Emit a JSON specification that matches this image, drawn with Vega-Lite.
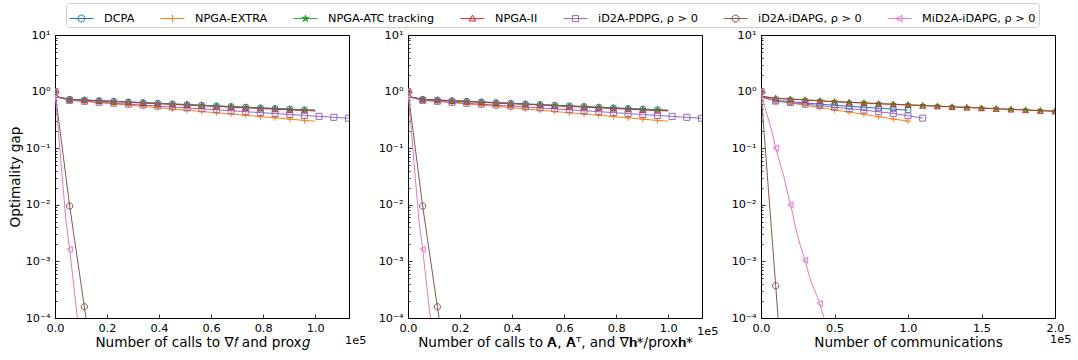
{
  "$schema": "https://vega.github.io/schema/vega-lite/v6.json",
  "autosize": {"type": "pad"},
  "padding": {"left": 7, "top": 2, "right": 0, "bottom": 0},
  "background": "white",
  "config": {
    "font": "DejaVu Sans",
    "view": {"stroke": "black", "strokeWidth": 1},
    "axis": {
      "grid": false,
      "labelFont": "DejaVu Sans", "labelFontSize": 11.3, "labelColor": "black",
      "titleFont": "DejaVu Sans", "titleFontSize": 13.6, "titleFontWeight": "normal", "titleColor": "black",
      "domainColor": "black", "domainWidth": 1, "tickColor": "black", "tickWidth": 0.8,
      "labelFlush": false, "labelOverlap": false
    }
  },
  "data": {"values": [
    {"p":1,"s":"DCPA","x":0,"y":1.0,"m":1},{"p":1,"s":"DCPA","x":1200,"y":0.80,"m":0},{"p":1,"s":"DCPA","x":5640,"y":0.731,"m":1},{"p":1,"s":"DCPA","x":11280,"y":0.712,"m":1},{"p":1,"s":"DCPA","x":16920,"y":0.693,"m":1},{"p":1,"s":"DCPA","x":22560,"y":0.675,"m":1},{"p":1,"s":"DCPA","x":28200,"y":0.658,"m":1},{"p":1,"s":"DCPA","x":33840,"y":0.640,"m":1},{"p":1,"s":"DCPA","x":39480,"y":0.624,"m":1},{"p":1,"s":"DCPA","x":45120,"y":0.607,"m":1},{"p":1,"s":"DCPA","x":50760,"y":0.591,"m":1},{"p":1,"s":"DCPA","x":56400,"y":0.576,"m":1},{"p":1,"s":"DCPA","x":62040,"y":0.561,"m":1},{"p":1,"s":"DCPA","x":67680,"y":0.546,"m":1},{"p":1,"s":"DCPA","x":73320,"y":0.532,"m":1},{"p":1,"s":"DCPA","x":78960,"y":0.518,"m":1},{"p":1,"s":"DCPA","x":84600,"y":0.505,"m":1},{"p":1,"s":"DCPA","x":90240,"y":0.491,"m":1},{"p":1,"s":"DCPA","x":95880,"y":0.479,"m":1},{"p":1,"s":"DCPA","x":100000,"y":0.472,"m":0},
    {"p":1,"s":"EXTRA","x":0,"y":1.0,"m":1},{"p":1,"s":"EXTRA","x":1200,"y":0.79,"m":0},{"p":1,"s":"EXTRA","x":5640,"y":0.71,"m":1},{"p":1,"s":"EXTRA","x":11280,"y":0.674,"m":1},{"p":1,"s":"EXTRA","x":16920,"y":0.640,"m":1},{"p":1,"s":"EXTRA","x":22560,"y":0.608,"m":1},{"p":1,"s":"EXTRA","x":28200,"y":0.577,"m":1},{"p":1,"s":"EXTRA","x":33840,"y":0.548,"m":1},{"p":1,"s":"EXTRA","x":39480,"y":0.520,"m":1},{"p":1,"s":"EXTRA","x":45120,"y":0.494,"m":1},{"p":1,"s":"EXTRA","x":50760,"y":0.469,"m":1},{"p":1,"s":"EXTRA","x":56400,"y":0.445,"m":1},{"p":1,"s":"EXTRA","x":62040,"y":0.423,"m":1},{"p":1,"s":"EXTRA","x":67680,"y":0.401,"m":1},{"p":1,"s":"EXTRA","x":73320,"y":0.381,"m":1},{"p":1,"s":"EXTRA","x":78960,"y":0.362,"m":1},{"p":1,"s":"EXTRA","x":84600,"y":0.344,"m":1},{"p":1,"s":"EXTRA","x":90240,"y":0.326,"m":1},{"p":1,"s":"EXTRA","x":95880,"y":0.310,"m":1},{"p":1,"s":"EXTRA","x":100000,"y":0.300,"m":0},
    {"p":1,"s":"ATC","x":0,"y":1.0,"m":1},{"p":1,"s":"ATC","x":1200,"y":0.80,"m":0},{"p":1,"s":"ATC","x":5640,"y":0.728,"m":1},{"p":1,"s":"ATC","x":11280,"y":0.708,"m":1},{"p":1,"s":"ATC","x":16920,"y":0.689,"m":1},{"p":1,"s":"ATC","x":22560,"y":0.670,"m":1},{"p":1,"s":"ATC","x":28200,"y":0.652,"m":1},{"p":1,"s":"ATC","x":33840,"y":0.634,"m":1},{"p":1,"s":"ATC","x":39480,"y":0.617,"m":1},{"p":1,"s":"ATC","x":45120,"y":0.600,"m":1},{"p":1,"s":"ATC","x":50760,"y":0.584,"m":1},{"p":1,"s":"ATC","x":56400,"y":0.568,"m":1},{"p":1,"s":"ATC","x":62040,"y":0.553,"m":1},{"p":1,"s":"ATC","x":67680,"y":0.538,"m":1},{"p":1,"s":"ATC","x":73320,"y":0.524,"m":1},{"p":1,"s":"ATC","x":78960,"y":0.510,"m":1},{"p":1,"s":"ATC","x":84600,"y":0.496,"m":1},{"p":1,"s":"ATC","x":90240,"y":0.483,"m":1},{"p":1,"s":"ATC","x":95880,"y":0.470,"m":1},{"p":1,"s":"ATC","x":100000,"y":0.462,"m":0},
    {"p":1,"s":"II","x":0,"y":1.0,"m":1},{"p":1,"s":"II","x":1200,"y":0.80,"m":0},{"p":1,"s":"II","x":5640,"y":0.726,"m":1},{"p":1,"s":"II","x":11280,"y":0.705,"m":1},{"p":1,"s":"II","x":16920,"y":0.685,"m":1},{"p":1,"s":"II","x":22560,"y":0.666,"m":1},{"p":1,"s":"II","x":28200,"y":0.648,"m":1},{"p":1,"s":"II","x":33840,"y":0.630,"m":1},{"p":1,"s":"II","x":39480,"y":0.612,"m":1},{"p":1,"s":"II","x":45120,"y":0.595,"m":1},{"p":1,"s":"II","x":50760,"y":0.579,"m":1},{"p":1,"s":"II","x":56400,"y":0.563,"m":1},{"p":1,"s":"II","x":62040,"y":0.547,"m":1},{"p":1,"s":"II","x":67680,"y":0.532,"m":1},{"p":1,"s":"II","x":73320,"y":0.518,"m":1},{"p":1,"s":"II","x":78960,"y":0.503,"m":1},{"p":1,"s":"II","x":84600,"y":0.489,"m":1},{"p":1,"s":"II","x":90240,"y":0.476,"m":1},{"p":1,"s":"II","x":95880,"y":0.463,"m":1},{"p":1,"s":"II","x":100000,"y":0.455,"m":0},
    {"p":1,"s":"PDPG","x":0,"y":1.0,"m":1},{"p":1,"s":"PDPG","x":1200,"y":0.79,"m":0},{"p":1,"s":"PDPG","x":5640,"y":0.70,"m":1},{"p":1,"s":"PDPG","x":11280,"y":0.674,"m":1},{"p":1,"s":"PDPG","x":16920,"y":0.648,"m":1},{"p":1,"s":"PDPG","x":22560,"y":0.624,"m":1},{"p":1,"s":"PDPG","x":28200,"y":0.600,"m":1},{"p":1,"s":"PDPG","x":33840,"y":0.578,"m":1},{"p":1,"s":"PDPG","x":39480,"y":0.556,"m":1},{"p":1,"s":"PDPG","x":45120,"y":0.535,"m":1},{"p":1,"s":"PDPG","x":50760,"y":0.515,"m":1},{"p":1,"s":"PDPG","x":56400,"y":0.496,"m":1},{"p":1,"s":"PDPG","x":62040,"y":0.477,"m":1},{"p":1,"s":"PDPG","x":67680,"y":0.459,"m":1},{"p":1,"s":"PDPG","x":73320,"y":0.442,"m":1},{"p":1,"s":"PDPG","x":78960,"y":0.425,"m":1},{"p":1,"s":"PDPG","x":84600,"y":0.409,"m":1},{"p":1,"s":"PDPG","x":90240,"y":0.394,"m":1},{"p":1,"s":"PDPG","x":95880,"y":0.379,"m":1},{"p":1,"s":"PDPG","x":101520,"y":0.365,"m":1},{"p":1,"s":"PDPG","x":107160,"y":0.351,"m":1},{"p":1,"s":"PDPG","x":112800,"y":0.338,"m":1},
    {"p":1,"s":"iDAPG","x":0,"y":1.0,"m":1},{"p":1,"s":"iDAPG","x":5640,"y":0.0095,"m":1},{"p":1,"s":"iDAPG","x":11280,"y":0.000158,"m":1},{"p":1,"s":"iDAPG","x":14000,"y":0.000022,"m":0},
    {"p":1,"s":"MiD2A","x":0,"y":1.0,"m":1},{"p":1,"s":"MiD2A","x":4230,"y":0.0051,"m":0},{"p":1,"s":"MiD2A","x":5640,"y":0.00163,"m":1},{"p":1,"s":"MiD2A","x":8600,"y":0.0001,"m":0},{"p":1,"s":"MiD2A","x":10000,"y":0.000026,"m":0},

    {"p":2,"s":"DCPA","x":0,"y":1.0,"m":1},{"p":2,"s":"DCPA","x":1200,"y":0.80,"m":0},{"p":2,"s":"DCPA","x":5640,"y":0.731,"m":1},{"p":2,"s":"DCPA","x":11280,"y":0.712,"m":1},{"p":2,"s":"DCPA","x":16920,"y":0.693,"m":1},{"p":2,"s":"DCPA","x":22560,"y":0.675,"m":1},{"p":2,"s":"DCPA","x":28200,"y":0.658,"m":1},{"p":2,"s":"DCPA","x":33840,"y":0.640,"m":1},{"p":2,"s":"DCPA","x":39480,"y":0.624,"m":1},{"p":2,"s":"DCPA","x":45120,"y":0.607,"m":1},{"p":2,"s":"DCPA","x":50760,"y":0.591,"m":1},{"p":2,"s":"DCPA","x":56400,"y":0.576,"m":1},{"p":2,"s":"DCPA","x":62040,"y":0.561,"m":1},{"p":2,"s":"DCPA","x":67680,"y":0.546,"m":1},{"p":2,"s":"DCPA","x":73320,"y":0.532,"m":1},{"p":2,"s":"DCPA","x":78960,"y":0.518,"m":1},{"p":2,"s":"DCPA","x":84600,"y":0.505,"m":1},{"p":2,"s":"DCPA","x":90240,"y":0.491,"m":1},{"p":2,"s":"DCPA","x":95880,"y":0.479,"m":1},{"p":2,"s":"DCPA","x":100000,"y":0.472,"m":0},
    {"p":2,"s":"EXTRA","x":0,"y":1.0,"m":1},{"p":2,"s":"EXTRA","x":1200,"y":0.79,"m":0},{"p":2,"s":"EXTRA","x":5640,"y":0.71,"m":1},{"p":2,"s":"EXTRA","x":11280,"y":0.674,"m":1},{"p":2,"s":"EXTRA","x":16920,"y":0.640,"m":1},{"p":2,"s":"EXTRA","x":22560,"y":0.608,"m":1},{"p":2,"s":"EXTRA","x":28200,"y":0.577,"m":1},{"p":2,"s":"EXTRA","x":33840,"y":0.548,"m":1},{"p":2,"s":"EXTRA","x":39480,"y":0.520,"m":1},{"p":2,"s":"EXTRA","x":45120,"y":0.494,"m":1},{"p":2,"s":"EXTRA","x":50760,"y":0.469,"m":1},{"p":2,"s":"EXTRA","x":56400,"y":0.445,"m":1},{"p":2,"s":"EXTRA","x":62040,"y":0.423,"m":1},{"p":2,"s":"EXTRA","x":67680,"y":0.401,"m":1},{"p":2,"s":"EXTRA","x":73320,"y":0.381,"m":1},{"p":2,"s":"EXTRA","x":78960,"y":0.362,"m":1},{"p":2,"s":"EXTRA","x":84600,"y":0.344,"m":1},{"p":2,"s":"EXTRA","x":90240,"y":0.326,"m":1},{"p":2,"s":"EXTRA","x":95880,"y":0.310,"m":1},{"p":2,"s":"EXTRA","x":100000,"y":0.300,"m":0},
    {"p":2,"s":"ATC","x":0,"y":1.0,"m":1},{"p":2,"s":"ATC","x":1200,"y":0.80,"m":0},{"p":2,"s":"ATC","x":5640,"y":0.728,"m":1},{"p":2,"s":"ATC","x":11280,"y":0.708,"m":1},{"p":2,"s":"ATC","x":16920,"y":0.689,"m":1},{"p":2,"s":"ATC","x":22560,"y":0.670,"m":1},{"p":2,"s":"ATC","x":28200,"y":0.652,"m":1},{"p":2,"s":"ATC","x":33840,"y":0.634,"m":1},{"p":2,"s":"ATC","x":39480,"y":0.617,"m":1},{"p":2,"s":"ATC","x":45120,"y":0.600,"m":1},{"p":2,"s":"ATC","x":50760,"y":0.584,"m":1},{"p":2,"s":"ATC","x":56400,"y":0.568,"m":1},{"p":2,"s":"ATC","x":62040,"y":0.553,"m":1},{"p":2,"s":"ATC","x":67680,"y":0.538,"m":1},{"p":2,"s":"ATC","x":73320,"y":0.524,"m":1},{"p":2,"s":"ATC","x":78960,"y":0.510,"m":1},{"p":2,"s":"ATC","x":84600,"y":0.496,"m":1},{"p":2,"s":"ATC","x":90240,"y":0.483,"m":1},{"p":2,"s":"ATC","x":95880,"y":0.470,"m":1},{"p":2,"s":"ATC","x":100000,"y":0.462,"m":0},
    {"p":2,"s":"II","x":0,"y":1.0,"m":1},{"p":2,"s":"II","x":1200,"y":0.80,"m":0},{"p":2,"s":"II","x":5640,"y":0.726,"m":1},{"p":2,"s":"II","x":11280,"y":0.705,"m":1},{"p":2,"s":"II","x":16920,"y":0.685,"m":1},{"p":2,"s":"II","x":22560,"y":0.666,"m":1},{"p":2,"s":"II","x":28200,"y":0.648,"m":1},{"p":2,"s":"II","x":33840,"y":0.630,"m":1},{"p":2,"s":"II","x":39480,"y":0.612,"m":1},{"p":2,"s":"II","x":45120,"y":0.595,"m":1},{"p":2,"s":"II","x":50760,"y":0.579,"m":1},{"p":2,"s":"II","x":56400,"y":0.563,"m":1},{"p":2,"s":"II","x":62040,"y":0.547,"m":1},{"p":2,"s":"II","x":67680,"y":0.532,"m":1},{"p":2,"s":"II","x":73320,"y":0.518,"m":1},{"p":2,"s":"II","x":78960,"y":0.503,"m":1},{"p":2,"s":"II","x":84600,"y":0.489,"m":1},{"p":2,"s":"II","x":90240,"y":0.476,"m":1},{"p":2,"s":"II","x":95880,"y":0.463,"m":1},{"p":2,"s":"II","x":100000,"y":0.455,"m":0},
    {"p":2,"s":"PDPG","x":0,"y":1.0,"m":1},{"p":2,"s":"PDPG","x":1200,"y":0.79,"m":0},{"p":2,"s":"PDPG","x":5640,"y":0.70,"m":1},{"p":2,"s":"PDPG","x":11280,"y":0.674,"m":1},{"p":2,"s":"PDPG","x":16920,"y":0.648,"m":1},{"p":2,"s":"PDPG","x":22560,"y":0.624,"m":1},{"p":2,"s":"PDPG","x":28200,"y":0.600,"m":1},{"p":2,"s":"PDPG","x":33840,"y":0.578,"m":1},{"p":2,"s":"PDPG","x":39480,"y":0.556,"m":1},{"p":2,"s":"PDPG","x":45120,"y":0.535,"m":1},{"p":2,"s":"PDPG","x":50760,"y":0.515,"m":1},{"p":2,"s":"PDPG","x":56400,"y":0.496,"m":1},{"p":2,"s":"PDPG","x":62040,"y":0.477,"m":1},{"p":2,"s":"PDPG","x":67680,"y":0.459,"m":1},{"p":2,"s":"PDPG","x":73320,"y":0.442,"m":1},{"p":2,"s":"PDPG","x":78960,"y":0.425,"m":1},{"p":2,"s":"PDPG","x":84600,"y":0.409,"m":1},{"p":2,"s":"PDPG","x":90240,"y":0.394,"m":1},{"p":2,"s":"PDPG","x":95880,"y":0.379,"m":1},{"p":2,"s":"PDPG","x":101520,"y":0.365,"m":1},{"p":2,"s":"PDPG","x":107160,"y":0.351,"m":1},{"p":2,"s":"PDPG","x":112800,"y":0.338,"m":1},
    {"p":2,"s":"iDAPG","x":0,"y":1.0,"m":1},{"p":2,"s":"iDAPG","x":5640,"y":0.0095,"m":1},{"p":2,"s":"iDAPG","x":11280,"y":0.000158,"m":1},{"p":2,"s":"iDAPG","x":14000,"y":0.000022,"m":0},
    {"p":2,"s":"MiD2A","x":0,"y":1.0,"m":1},{"p":2,"s":"MiD2A","x":4230,"y":0.0051,"m":0},{"p":2,"s":"MiD2A","x":5640,"y":0.00163,"m":1},{"p":2,"s":"MiD2A","x":8600,"y":0.0001,"m":0},{"p":2,"s":"MiD2A","x":10000,"y":0.000026,"m":0},

    {"p":3,"s":"DCPA","x":0,"y":1.0,"m":1},{"p":3,"s":"DCPA","x":1000,"y":0.80,"m":0},{"p":3,"s":"DCPA","x":10000,"y":0.70,"m":1},{"p":3,"s":"DCPA","x":20000,"y":0.665,"m":1},{"p":3,"s":"DCPA","x":30000,"y":0.63,"m":1},{"p":3,"s":"DCPA","x":40000,"y":0.60,"m":1},{"p":3,"s":"DCPA","x":50000,"y":0.575,"m":1},{"p":3,"s":"DCPA","x":60000,"y":0.55,"m":1},{"p":3,"s":"DCPA","x":70000,"y":0.53,"m":1},{"p":3,"s":"DCPA","x":80000,"y":0.51,"m":1},{"p":3,"s":"DCPA","x":90000,"y":0.49,"m":1},{"p":3,"s":"DCPA","x":100000,"y":0.47,"m":1},
    {"p":3,"s":"EXTRA","x":0,"y":1.0,"m":1},{"p":3,"s":"EXTRA","x":1000,"y":0.79,"m":0},{"p":3,"s":"EXTRA","x":10000,"y":0.69,"m":1},{"p":3,"s":"EXTRA","x":20000,"y":0.629,"m":1},{"p":3,"s":"EXTRA","x":30000,"y":0.573,"m":1},{"p":3,"s":"EXTRA","x":40000,"y":0.523,"m":1},{"p":3,"s":"EXTRA","x":50000,"y":0.476,"m":1},{"p":3,"s":"EXTRA","x":60000,"y":0.434,"m":1},{"p":3,"s":"EXTRA","x":70000,"y":0.396,"m":1},{"p":3,"s":"EXTRA","x":80000,"y":0.361,"m":1},{"p":3,"s":"EXTRA","x":90000,"y":0.329,"m":1},{"p":3,"s":"EXTRA","x":100000,"y":0.30,"m":1},
    {"p":3,"s":"ATC","x":0,"y":1.0,"m":1},{"p":3,"s":"ATC","x":1000,"y":0.82,"m":0},{"p":3,"s":"ATC","x":10000,"y":0.765,"m":1},{"p":3,"s":"ATC","x":20000,"y":0.74,"m":1},{"p":3,"s":"ATC","x":30000,"y":0.715,"m":1},{"p":3,"s":"ATC","x":40000,"y":0.69,"m":1},{"p":3,"s":"ATC","x":50000,"y":0.665,"m":1},{"p":3,"s":"ATC","x":60000,"y":0.648,"m":1},{"p":3,"s":"ATC","x":70000,"y":0.632,"m":1},{"p":3,"s":"ATC","x":80000,"y":0.615,"m":1},{"p":3,"s":"ATC","x":90000,"y":0.60,"m":1},{"p":3,"s":"ATC","x":100000,"y":0.585,"m":1},{"p":3,"s":"ATC","x":110000,"y":0.57,"m":1},{"p":3,"s":"ATC","x":120000,"y":0.556,"m":1},{"p":3,"s":"ATC","x":130000,"y":0.541,"m":1},{"p":3,"s":"ATC","x":140000,"y":0.527,"m":1},{"p":3,"s":"ATC","x":150000,"y":0.514,"m":1},{"p":3,"s":"ATC","x":160000,"y":0.50,"m":1},{"p":3,"s":"ATC","x":170000,"y":0.488,"m":1},{"p":3,"s":"ATC","x":180000,"y":0.475,"m":1},{"p":3,"s":"ATC","x":190000,"y":0.463,"m":1},{"p":3,"s":"ATC","x":200000,"y":0.452,"m":1},
    {"p":3,"s":"II","x":0,"y":1.0,"m":1},{"p":3,"s":"II","x":1000,"y":0.82,"m":0},{"p":3,"s":"II","x":10000,"y":0.76,"m":1},{"p":3,"s":"II","x":20000,"y":0.735,"m":1},{"p":3,"s":"II","x":30000,"y":0.71,"m":1},{"p":3,"s":"II","x":40000,"y":0.685,"m":1},{"p":3,"s":"II","x":50000,"y":0.66,"m":1},{"p":3,"s":"II","x":60000,"y":0.645,"m":1},{"p":3,"s":"II","x":70000,"y":0.63,"m":1},{"p":3,"s":"II","x":80000,"y":0.61,"m":1},{"p":3,"s":"II","x":90000,"y":0.595,"m":1},{"p":3,"s":"II","x":100000,"y":0.58,"m":1},{"p":3,"s":"II","x":110000,"y":0.565,"m":1},{"p":3,"s":"II","x":120000,"y":0.551,"m":1},{"p":3,"s":"II","x":130000,"y":0.537,"m":1},{"p":3,"s":"II","x":140000,"y":0.523,"m":1},{"p":3,"s":"II","x":150000,"y":0.51,"m":1},{"p":3,"s":"II","x":160000,"y":0.497,"m":1},{"p":3,"s":"II","x":170000,"y":0.484,"m":1},{"p":3,"s":"II","x":180000,"y":0.472,"m":1},{"p":3,"s":"II","x":190000,"y":0.46,"m":1},{"p":3,"s":"II","x":200000,"y":0.448,"m":1},
    {"p":3,"s":"PDPG","x":0,"y":1.0,"m":1},{"p":3,"s":"PDPG","x":1000,"y":0.79,"m":0},{"p":3,"s":"PDPG","x":10000,"y":0.68,"m":1},{"p":3,"s":"PDPG","x":20000,"y":0.64,"m":1},{"p":3,"s":"PDPG","x":30000,"y":0.60,"m":1},{"p":3,"s":"PDPG","x":40000,"y":0.565,"m":1},{"p":3,"s":"PDPG","x":50000,"y":0.53,"m":1},{"p":3,"s":"PDPG","x":60000,"y":0.50,"m":1},{"p":3,"s":"PDPG","x":70000,"y":0.47,"m":1},{"p":3,"s":"PDPG","x":80000,"y":0.44,"m":1},{"p":3,"s":"PDPG","x":90000,"y":0.41,"m":1},{"p":3,"s":"PDPG","x":100000,"y":0.375,"m":1},{"p":3,"s":"PDPG","x":110000,"y":0.34,"m":1},
    {"p":3,"s":"iDAPG","x":0,"y":1.0,"m":1},{"p":3,"s":"iDAPG","x":10000,"y":0.00037,"m":1},{"p":3,"s":"iDAPG","x":12500,"y":0.00005,"m":0},
    {"p":3,"s":"MiD2A","x":0,"y":1.0,"m":1},{"p":3,"s":"MiD2A","x":2700,"y":0.52,"m":0},{"p":3,"s":"MiD2A","x":6100,"y":0.26,"m":0},{"p":3,"s":"MiD2A","x":8000,"y":0.17,"m":0},{"p":3,"s":"MiD2A","x":10000,"y":0.10,"m":1},{"p":3,"s":"MiD2A","x":12000,"y":0.066,"m":0},{"p":3,"s":"MiD2A","x":14000,"y":0.043,"m":0},{"p":3,"s":"MiD2A","x":15500,"y":0.032,"m":0},{"p":3,"s":"MiD2A","x":17500,"y":0.019,"m":0},{"p":3,"s":"MiD2A","x":20000,"y":0.010,"m":1},{"p":3,"s":"MiD2A","x":21500,"y":0.0072,"m":0},{"p":3,"s":"MiD2A","x":23000,"y":0.0045,"m":0},{"p":3,"s":"MiD2A","x":25000,"y":0.0028,"m":0},{"p":3,"s":"MiD2A","x":26500,"y":0.0020,"m":0},{"p":3,"s":"MiD2A","x":28000,"y":0.0015,"m":0},{"p":3,"s":"MiD2A","x":30000,"y":0.00105,"m":1},{"p":3,"s":"MiD2A","x":31500,"y":0.00075,"m":0},{"p":3,"s":"MiD2A","x":33300,"y":0.0005,"m":0},{"p":3,"s":"MiD2A","x":35000,"y":0.00038,"m":0},{"p":3,"s":"MiD2A","x":36700,"y":0.0003,"m":0},{"p":3,"s":"MiD2A","x":38500,"y":0.00023,"m":0},{"p":3,"s":"MiD2A","x":40000,"y":0.00018,"m":1},{"p":3,"s":"MiD2A","x":41500,"y":0.00013,"m":0},{"p":3,"s":"MiD2A","x":42800,"y":0.0001,"m":0},{"p":3,"s":"MiD2A","x":45000,"y":0.00005,"m":0}
  ]},
  "spacing": 59,
  "bounds": "flush",
  "resolve": {"scale": {"x": "independent", "y": "independent", "color": "shared"}, "legend": {"color": "shared"}},
  "hconcat": [
    {
      "width": 294, "height": 283,
      "title": {"text": "1e5", "orient": "bottom", "anchor": "end", "frame": "group", "align": "left", "dx": -4, "offset": -14, "font": "DejaVu Sans", "fontSize": 11.3, "fontWeight": "normal", "color": "black"},
      "encoding": {
        "x": {"field": "x", "type": "quantitative", "scale": {"domain": [0, 113000], "nice": false, "zero": false},
              "axis": {"title": "Number of calls to ∇𝑓 and prox𝑔", "values": [0, 20000, 40000, 60000, 80000, 100000], "labelExpr": "format(datum.value/100000, '.1f')", "tickSize": -4, "labelPadding": 8, "titlePadding": 2}},
        "y": {"field": "y", "type": "quantitative", "scale": {"type": "log", "domain": [0.0001, 10], "nice": false},
              "axis": {"title": "Optimality gap", "titlePadding": 3,
                       "values": [0.0001,0.0002,0.0003,0.0004,0.0005,0.0006,0.0007,0.0008,0.0009,0.001,0.002,0.003,0.004,0.005,0.006,0.007,0.008,0.009,0.01,0.02,0.03,0.04,0.05,0.06,0.07,0.08,0.09,0.1,0.2,0.3,0.4,0.5,0.6,0.7,0.8,0.9,1,2,3,4,5,6,7,8,9,10],
                       "labelExpr": "abs(datum.value/pow(10,round(log(datum.value)/LN10))-1)>0.01 ? '' : ['10⁻⁴','10⁻³','10⁻²','10⁻¹','10⁰','10¹'][round(log(datum.value)/LN10)+4]",
                       "tickSize": {"condition": {"test": "abs(datum.value/pow(10,round(log(datum.value)/LN10))-1)<0.01", "value": -4}, "value": -2},
                       "labelPadding": 9}}
      },
      "layer": [
        {"transform": [{"filter": "datum.p == 1"}],
         "mark": {"type": "line", "strokeWidth": 1, "clip": true},
         "encoding": {"color": {"field": "s", "type": "nominal"}}},
        {"transform": [{"filter": "datum.p == 1 && datum.m == 1"}],
         "mark": {"type": "point", "filled": false, "size": 36, "strokeWidth": 1, "clip": true, "opacity": 1},
         "encoding": {"color": {"field": "s", "type": "nominal"},
           "shape": {"condition": [{"test": "datum.s=='DCPA'", "value": "circle"}, {"test": "datum.s=='EXTRA'", "value": "M-1,0H1M0,-1V1"}, {"test": "datum.s=='ATC'", "value": "M0,-1L0.225,-0.309L0.951,-0.309L0.363,0.118L0.588,0.809L0,0.382L-0.588,0.809L-0.363,0.118L-0.951,-0.309L-0.225,-0.309Z"}, {"test": "datum.s=='II'", "value": "triangle-up"}, {"test": "datum.s=='PDPG'", "value": "square"}, {"test": "datum.s=='iDAPG'", "value": "M-0.414,-1L0.414,-1L1,-0.414L1,0.414L0.414,1L-0.414,1L-1,0.414L-1,-0.414Z"}], "value": "triangle-left"},
           "fill": {"condition": {"test": "datum.s == 'ATC'", "value": "#2ca02c"}, "value": "transparent"}}}
      ]
    },
    {
      "width": 294, "height": 283,
      "encoding": {
        "x": {"field": "x", "type": "quantitative", "scale": {"domain": [0, 113000], "nice": false, "zero": false},
              "axis": {"title": "Number of calls to 𝐀, 𝐀ᵀ, and ∇𝐡*/prox𝐡*", "values": [0, 20000, 40000, 60000, 80000, 100000], "labelExpr": "format(datum.value/100000, '.1f')", "tickSize": -4, "labelPadding": 8, "titlePadding": 2}},
        "y": {"field": "y", "type": "quantitative", "scale": {"type": "log", "domain": [0.0001, 10], "nice": false},
              "axis": {"title": null,
                       "values": [0.0001,0.0002,0.0003,0.0004,0.0005,0.0006,0.0007,0.0008,0.0009,0.001,0.002,0.003,0.004,0.005,0.006,0.007,0.008,0.009,0.01,0.02,0.03,0.04,0.05,0.06,0.07,0.08,0.09,0.1,0.2,0.3,0.4,0.5,0.6,0.7,0.8,0.9,1,2,3,4,5,6,7,8,9,10],
                       "labelExpr": "abs(datum.value/pow(10,round(log(datum.value)/LN10))-1)>0.01 ? '' : ['10⁻⁴','10⁻³','10⁻²','10⁻¹','10⁰','10¹'][round(log(datum.value)/LN10)+4]",
                       "tickSize": {"condition": {"test": "abs(datum.value/pow(10,round(log(datum.value)/LN10))-1)<0.01", "value": -4}, "value": -2},
                       "labelPadding": 9}}
      },
      "layer": [
        {"transform": [{"filter": "datum.p == 2"}],
         "mark": {"type": "line", "strokeWidth": 1, "clip": true},
         "encoding": {"color": {"field": "s", "type": "nominal"}}},
        {"transform": [{"filter": "datum.p == 2 && datum.m == 1"}],
         "mark": {"type": "point", "filled": false, "size": 36, "strokeWidth": 1, "clip": true, "opacity": 1},
         "encoding": {"color": {"field": "s", "type": "nominal"},
           "shape": {"condition": [{"test": "datum.s=='DCPA'", "value": "circle"}, {"test": "datum.s=='EXTRA'", "value": "M-1,0H1M0,-1V1"}, {"test": "datum.s=='ATC'", "value": "M0,-1L0.225,-0.309L0.951,-0.309L0.363,0.118L0.588,0.809L0,0.382L-0.588,0.809L-0.363,0.118L-0.951,-0.309L-0.225,-0.309Z"}, {"test": "datum.s=='II'", "value": "triangle-up"}, {"test": "datum.s=='PDPG'", "value": "square"}, {"test": "datum.s=='iDAPG'", "value": "M-0.414,-1L0.414,-1L1,-0.414L1,0.414L0.414,1L-0.414,1L-1,0.414L-1,-0.414Z"}], "value": "triangle-left"},
           "fill": {"condition": {"test": "datum.s == 'ATC'", "value": "#2ca02c"}, "value": "transparent"}}},
        {"data": {"values": [{"panel": 2, "t": "1e5", "x": 113000, "y": 0.0001}]},
         "mark": {"type": "text", "align": "left", "baseline": "middle", "dx": -5, "dy": 14, "fontSize": 11.3, "font": "DejaVu Sans", "fill": "black"},
         "encoding": {"text": {"field": "t", "type": "nominal"}}}
      ]
    },
    {
      "width": 294, "height": 283,
      "encoding": {
        "x": {"field": "x", "type": "quantitative", "scale": {"domain": [0, 200000], "nice": false, "zero": false},
              "axis": {"title": "Number of communications", "values": [0, 50000, 100000, 150000, 200000], "labelExpr": "format(datum.value/100000, '.1f')", "tickSize": -4, "labelPadding": 8, "titlePadding": 2}},
        "y": {"field": "y", "type": "quantitative", "scale": {"type": "log", "domain": [0.0001, 10], "nice": false},
              "axis": {"title": null,
                       "values": [0.0001,0.0002,0.0003,0.0004,0.0005,0.0006,0.0007,0.0008,0.0009,0.001,0.002,0.003,0.004,0.005,0.006,0.007,0.008,0.009,0.01,0.02,0.03,0.04,0.05,0.06,0.07,0.08,0.09,0.1,0.2,0.3,0.4,0.5,0.6,0.7,0.8,0.9,1,2,3,4,5,6,7,8,9,10],
                       "labelExpr": "abs(datum.value/pow(10,round(log(datum.value)/LN10))-1)>0.01 ? '' : ['10⁻⁴','10⁻³','10⁻²','10⁻¹','10⁰','10¹'][round(log(datum.value)/LN10)+4]",
                       "tickSize": {"condition": {"test": "abs(datum.value/pow(10,round(log(datum.value)/LN10))-1)<0.01", "value": -4}, "value": -2},
                       "labelPadding": 9}}
      },
      "layer": [
        {"transform": [{"filter": "datum.p == 3"}],
         "mark": {"type": "line", "strokeWidth": 1, "clip": true},
         "encoding": {"color": {"field": "s", "type": "nominal", "scale": {"domain": ["DCPA","EXTRA","ATC","II","PDPG","iDAPG","MiD2A"], "range": ["#1f77b4","#ff7f0e","#2ca02c","#d62728","#9467bd","#8c564b","#e377c2"]},
           "legend": {"title": null, "orient": "none", "legendX": 11, "legendY": -32, "direction": "horizontal", "columns": 7, "symbolSize": 576, "symbolStrokeWidth": 1, "labelFont": "DejaVu Sans", "labelFontSize": 11.3, "labelColor": "black", "labelOffset": 10, "columnPadding": 23, "padding": 3, "strokeColor": "#d0d0d0", "cornerRadius": 3, "fillColor": "white",
             "labelExpr": "datum.value=='DCPA' ? 'DCPA' : datum.value=='EXTRA' ? 'NPGA-EXTRA' : datum.value=='ATC' ? 'NPGA-ATC tracking' : datum.value=='II' ? 'NPGA-II' : datum.value=='PDPG' ? 'iD2A-PDPG, ρ > 0' : datum.value=='iDAPG' ? 'iD2A-iDAPG, ρ > 0' : 'MiD2A-iDAPG, ρ > 0'",
             "encoding": {"symbols": {
               "shape": {"value": {"expr": "datum.value=='DCPA' ? 'M-1,0H1M-0.29,0A0.29,0.29,0,1,0,0.29,0A0.29,0.29,0,1,0,-0.29,0Z' : datum.value=='EXTRA' ? 'M-1,0H1M0,-0.29V0.29' : datum.value=='ATC' ? 'M-1,0H1M0,-0.3L0.068,-0.093L0.285,-0.093L0.109,0.035L0.176,0.243L0,0.115L-0.176,0.243L-0.109,0.035L-0.285,-0.093L-0.068,-0.093Z' : datum.value=='II' ? 'M-1,0H1M0,-0.3L0.27,0.2L-0.27,0.2Z' : datum.value=='PDPG' ? 'M-1,0H1M-0.25,-0.25H0.25V0.25H-0.25Z' : datum.value=='iDAPG' ? 'M-1,0H1M-0.116,-0.28L0.116,-0.28L0.28,-0.116L0.28,0.116L0.116,0.28L-0.116,0.28L-0.28,0.116L-0.28,-0.116Z' : 'M-1,0H1M-0.3,0L0.22,-0.27L0.22,0.27Z'"}},
               "fill": {"value": {"expr": "datum.value=='ATC' ? '#2ca02c' : 'transparent'"}},
               "strokeWidth": {"value": 1}}}}}}},
        {"transform": [{"filter": "datum.p == 3 && datum.m == 1"}],
         "mark": {"type": "point", "filled": false, "size": 36, "strokeWidth": 1, "clip": true, "opacity": 1},
         "encoding": {"color": {"field": "s", "type": "nominal"},
           "shape": {"condition": [{"test": "datum.s=='DCPA'", "value": "circle"}, {"test": "datum.s=='EXTRA'", "value": "M-1,0H1M0,-1V1"}, {"test": "datum.s=='ATC'", "value": "M0,-1L0.225,-0.309L0.951,-0.309L0.363,0.118L0.588,0.809L0,0.382L-0.588,0.809L-0.363,0.118L-0.951,-0.309L-0.225,-0.309Z"}, {"test": "datum.s=='II'", "value": "triangle-up"}, {"test": "datum.s=='PDPG'", "value": "square"}, {"test": "datum.s=='iDAPG'", "value": "M-0.414,-1L0.414,-1L1,-0.414L1,0.414L0.414,1L-0.414,1L-1,0.414L-1,-0.414Z"}], "value": "triangle-left"},
           "fill": {"condition": {"test": "datum.s == 'ATC'", "value": "#2ca02c"}, "value": "transparent"}}},
        {"data": {"values": [{"panel": 3, "t": "1e5", "x": 200000, "y": 0.0001}]},
         "mark": {"type": "text", "align": "left", "baseline": "middle", "dx": -5, "dy": 22, "fontSize": 11.3, "font": "DejaVu Sans", "fill": "black"},
         "encoding": {"text": {"field": "t", "type": "nominal"}}}
      ]
    }
  ]
}
